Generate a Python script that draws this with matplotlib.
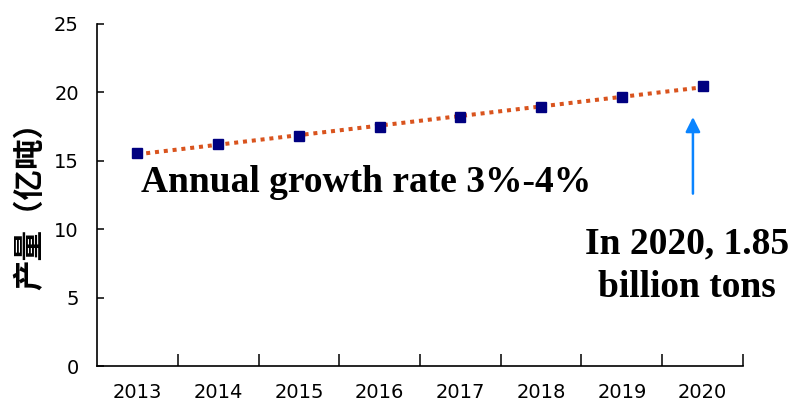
import matplotlib.pyplot as plt
import numpy as np

plt.rcParams['font.family'] = ['DejaVu Sans']

years = ['2013', '2014', '2015', '2016', '2017', '2018', '2019', '2020']
output = [15.6, 16.2, 16.8, 17.5, 18.2, 18.9, 19.7, 20.5]  # 亿吨
y_ticks = [0, 5, 10, 15, 20, 25]

fig = plt.figure(figsize=(7.9, 4.13), dpi=100)
ax = fig.add_axes([0.1228, 0.1138, 0.8177, 0.8281])

x = np.arange(len(years))

# linear trend line (dotted)
k, b = np.polyfit(x, output, 1)
ax.plot([x[0], x[-1]], [k * x[0] + b, k * x[-1] + b], color='#D9541E',
        linewidth=2.9, linestyle=(0, (1, 1.2)), dash_capstyle='butt', zorder=2)

# data points
ax.plot(x, output, linestyle='none', marker='s', markersize=7.5,
        color='#000080', zorder=3)

ax.set_xlim(-0.5, len(years) - 0.5)
ax.set_ylim(0, 25)

ax.set_xticks(x)
ax.set_xticklabels(years)
ax.set_xticks(x + 0.5, minor=True)
ax.tick_params(axis='x', which='major', length=0, pad=12, labelsize=14)
ax.tick_params(axis='x', which='minor', direction='in', length=8.5, width=1.1)

ax.set_yticks(y_ticks)
ax.tick_params(axis='y', direction='in', length=5, width=1.1, pad=13, labelsize=14)

for side in ['top', 'right']:
    ax.spines[side].set_visible(False)
for side in ['left', 'bottom']:
    ax.spines[side].set_linewidth(1.2)

fig.text(0.038, 0.52, '产量（亿吨）', rotation=90, ha='center', va='center',
         fontsize=22, fontweight='bold', family=['Noto Sans CJK SC', 'DejaVu Sans'])

# annotations
ax.text(0.04, 12.75, 'Annual growth rate 3%-4%', ha='left', va='baseline',
        fontsize=27, fontweight='bold', family='Liberation Serif')
ax.text(6.81, 8.26, 'In 2020, 1.85', ha='center', va='baseline',
        fontsize=27, fontweight='bold', family='Liberation Serif')
ax.text(6.81, 5.04, 'billion tons', ha='center', va='baseline',
        fontsize=27, fontweight='bold', family='Liberation Serif')

ax.annotate('', xy=(6.88, 18.2), xytext=(6.88, 12.6),
            arrowprops=dict(arrowstyle='-|>', color='#0A84FF', lw=1.8,
                            mutation_scale=22, shrinkA=0, shrinkB=0))

fig.savefig('out.png', dpi=100)
